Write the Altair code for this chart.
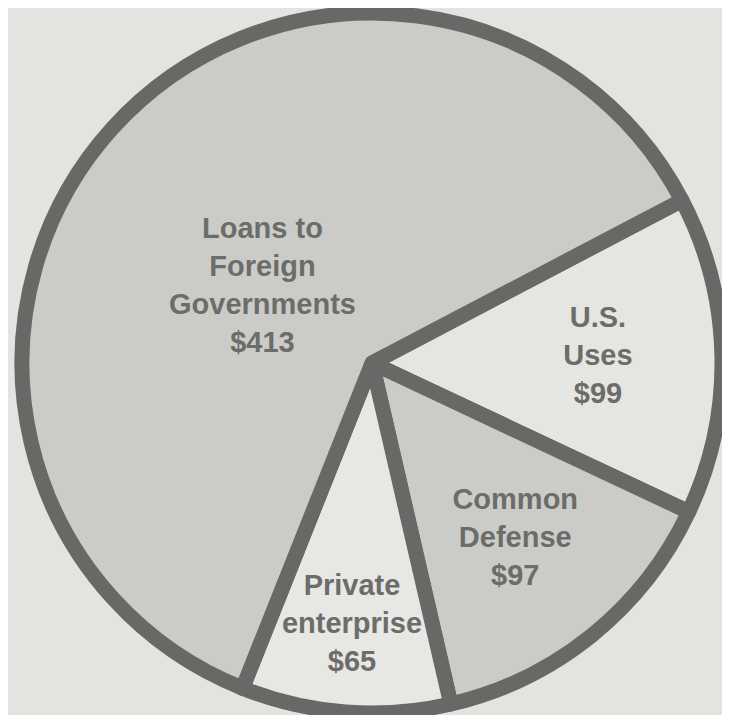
import altair as alt
import pandas as pd
import math

categories = ["U.S.\nUses\n$99", "Common\nDefense\n$97", "Private\nenterprise\n$65", "Loans to\nForeign\nGovernments\n$413"]
names = ["U.S. Uses", "Common Defense", "Private enterprise", "Loans to Foreign Governments"]
values = [99, 97, 65, 413]
fills = ["#e5e6e2", "#cbccc8", "#e7e8e4", "#cbccc8"]

# label layout (distance of label block from centre)
label_radius = [226, 228, 264, 142]

df = pd.DataFrame({
    "name": names,
    "label": categories,
    "value": values,
    "order": list(range(len(values))),
    "r": label_radius,
    "lines": [c.count("\n") + 1 for c in categories],
})

start = math.radians(62.3)
theta_scale = alt.Scale(range=[start, start + 2 * math.pi])

cx, cy = 364, 355
LH = 38

base = alt.Chart(df)

pie = base.mark_arc(outerRadius=350, stroke="#686867", strokeWidth=15, strokeJoin="round").encode(
    theta=alt.Theta("value:Q", stack=True, scale=theta_scale),
    order=alt.Order("order:Q"),
    color=alt.Color("name:N", scale=alt.Scale(domain=names, range=fills), legend=None),
    x=alt.value(cx),
    y=alt.value(cy),
)


def label_layer(n, dx=0, dy=0):
    return base.transform_window(
        cum="sum(value)", sort=[alt.SortField("order")]
    ).transform_calculate(
        mid="datum.cum - datum.value / 2"
    ).transform_filter(
        alt.datum.lines == n
    ).mark_text(
        lineBreak="\n", lineHeight=LH, font="Liberation Sans", fontWeight="bold",
        fontSize=29, color="#6c6c6a", align="center", baseline="middle",
        dx=dx, dy=-(n - 1) * LH / 2 + dy,
    ).encode(
        theta=alt.Theta("mid:Q", stack=None, scale=theta_scale),
        radius=alt.Radius("r:Q", scale=None),
        text="label:N",
        x=alt.value(cx),
        y=alt.value(cy),
    )


chart = alt.layer(pie, label_layer(3, dy=-2), label_layer(4, dx=-4, dy=18)).properties(
    width=714, height=707, autosize=alt.AutoSizeParams(type="none"), padding=0,
    background="#e3e4e0",
).configure_view(stroke=None)

chart.save("out.html", embed_options={"renderer": "svg", "actions": False})
